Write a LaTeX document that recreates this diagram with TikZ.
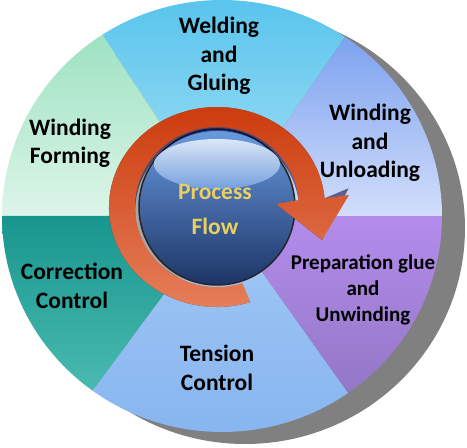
\documentclass[tikz,border=0pt]{standalone}
\usepackage{fontspec}
\setmainfont{Carlito}
\definecolor{weldTop}{HTML}{55C3EC}
\definecolor{weldBot}{HTML}{A9E1F6}
\definecolor{unloadTop}{HTML}{7CA2EF}
\definecolor{unloadBot}{HTML}{D2DEFB}
\definecolor{prepTop}{HTML}{B48CEC}
\definecolor{prepBot}{HTML}{9377C6}
\definecolor{tensTop}{HTML}{A3C9F6}
\definecolor{tensBot}{HTML}{85B4EF}
\definecolor{corrTop}{HTML}{18968E}
\definecolor{corrBot}{HTML}{4ABAB0}
\definecolor{formTop}{HTML}{9EE2C2}
\definecolor{formBot}{HTML}{DDF5E9}
\definecolor{ringTop}{HTML}{CC3A0C}
\definecolor{ringBot}{HTML}{E6825E}
\definecolor{ballTop}{HTML}{6A9BE0}
\definecolor{ballBot}{HTML}{1C3466}
\definecolor{flowText}{HTML}{E8D060}
\begin{document}
\begin{tikzpicture}[x=1pt, y=1pt,
    step label/.style={font=\fontsize{23.5}{28.5}\selectfont\bfseries, align=center, text=black},
    small label/.style={font=\fontsize{21}{26}\selectfont\bfseries, align=center, text=black}]
\useasboundingbox (0,0) rectangle (467,448);
\coordinate (C) at (222,232);
\coordinate (B) at (217,241);

% shadow of the wheel
\fill[gray] (245,220) ellipse[x radius=220, y radius=216];

% the six steps
\shade[top color=weldTop, bottom color=weldBot] (C) -- ++(56:220 and 216) arc[start angle=56, end angle=123, x radius=220, y radius=216] -- cycle;
\shade[top color=formTop, bottom color=formBot] (C) -- ++(123:220 and 216) arc[start angle=123, end angle=180, x radius=220, y radius=216] -- cycle;
\shade[top color=corrTop, bottom color=corrBot] (C) -- ++(180:220 and 216) arc[start angle=180, end angle=234, x radius=220, y radius=216] -- cycle;
\shade[top color=tensTop, bottom color=tensBot] (C) -- ++(234:220 and 216) arc[start angle=234, end angle=305, x radius=220, y radius=216] -- cycle;
\shade[top color=prepTop, bottom color=prepBot] (C) -- ++(305:220 and 216) arc[start angle=305, end angle=360, x radius=220, y radius=216] -- cycle;
\shade[top color=unloadTop, bottom color=unloadBot] (C) -- ++(0:220 and 216) arc[start angle=0, end angle=56, x radius=220, y radius=216] -- cycle;

% center ball
\fill[gray!70] ([shift={(-3,3)}]B) circle[radius=81];
\shade[top color=ballTop, bottom color=ballBot, draw=black!85, line width=1.5pt] (B) circle[radius=78];
\shade[top color=white!85!ballTop, bottom color=ballTop!90!white, opacity=0.9] ([yshift=43]B) ellipse[x radius=63, y radius=25];

% circular arrow
\fill[black!75!blue, opacity=0.55, shift={(6,-5)}] (B) ++(288:108 and 100) arc[start angle=288, end angle=5, x radius=108, y radius=100]
  -- ++(24,10) -- ([shift={(105,-33)}]B) -- ([shift={(59,3)}]B) -- ++(5:23 and 0)
  arc[start angle=5, end angle=288, x radius=82, y radius=80] -- cycle;
\shade[top color=ringTop, bottom color=ringBot] (B) ++(288:108 and 100) arc[start angle=288, end angle=5, x radius=108, y radius=100]
  -- ([shift={(132,12)}]B) -- ([shift={(105,-33)}]B) -- ([shift={(59,3)}]B) -- ([shift={(5:82 and 80)}]B)
  arc[start angle=5, end angle=288, x radius=82, y radius=80] -- cycle;

% labels
\node[step label] (weld) at (219,392) {Welding\\and\\Gluing};
\node[step label] (unload) at (370,305) {Winding\\and\\Unloading};
\node[small label] (prep) at (363,158) {Preparation glue\\and\\Unwinding};
\node[step label] (tens) at (217,80) {Tension\\Control};
\node[step label] (corr) at (72,162) {Correction\\Control};
\node[step label] (form) at (70,305) {Winding\\Forming};
\node[font=\fontsize{23.5}{35}\selectfont\bfseries, align=center, text=flowText] (flow) at (215,239) {Process\\Flow};
\end{tikzpicture}
\end{document}
